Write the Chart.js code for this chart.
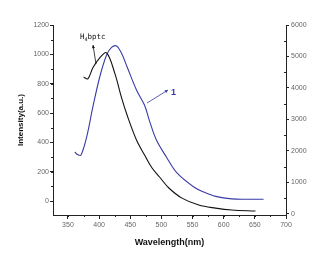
<!DOCTYPE html>
<html>
<head>
<meta charset="utf-8">
<script src="https://cdn.jsdelivr.net/npm/chart.js@4.4.0/dist/chart.umd.min.js"></script>
<style>
  html, body { margin: 0; padding: 0; background: #fff; }
</style>
</head>
<body>
<canvas id="chart" width="327" height="263"></canvas>
<script>
// emission spectra: ligand (left axis) and complex 1 (right axis)
const ligandWl  = [375, 382, 390, 401, 412, 425, 436, 445, 460, 473, 485, 497, 512, 533, 560, 587, 613, 651];
const ligandInt = [846, 833, 908, 976, 1010, 874, 705, 585, 416, 314, 225, 164, 89, 20, -27, -48, -61, -68];

const cplxWl  = [361, 366, 371, 380, 390, 401, 412, 420, 428, 436, 445, 460, 473, 481, 492, 508, 525, 552, 568, 587, 613, 640, 664];
const cplxInt = [1968, 1880, 1873, 2444, 3397, 4349, 5048, 5290, 5333, 5100, 4667, 3937, 3450, 2950, 2349, 1810, 1302, 857, 698, 560, 480, 470, 470];

const xTicks = [350, 400, 450, 500, 550, 600, 650, 700];
const leftTicks = [0, 200, 400, 600, 800, 1000, 1200];
const rightTicks = [0, 1000, 2000, 3000, 4000, 5000, 6000];

const BLUE = "#3a3aa6";
const tickFont = { family: "Liberation Sans", size: 7 };

const toPts = (xs, ys) => xs.map((x, i) => ({ x: x, y: ys[i] }));

// minor ticks + text labels with arrows
const extras = {
  id: "extras",
  afterDraw(chart) {
    const c = chart.ctx, s = chart.scales, a = chart.chartArea;
    c.save();
    c.strokeStyle = "#222";
    c.lineWidth = 1;
    c.beginPath();
    for (let v = 325; v <= 700; v += 25) {
      if (v < s.x.min) continue;
      const px = Math.round(s.x.getPixelForValue(v)) + 0.5;
      c.moveTo(px, a.bottom); c.lineTo(px, a.bottom + 2);
    }
    for (let v = -100; v <= 1200; v += 100) {
      const py = Math.round(s.y.getPixelForValue(v)) + 0.5;
      if (py < a.top - 1 || py > a.bottom) continue;
      c.moveTo(a.left - 2, py); c.lineTo(a.left, py);
    }
    for (let v = 500; v <= 6000; v += 1000) {
      const py = Math.round(s.y2.getPixelForValue(v)) + 0.5;
      c.moveTo(a.right - 2, py); c.lineTo(a.right, py);
    }
    c.stroke();

    // H4bptc label
    c.fillStyle = "#111";
    c.font = "7.5px 'DejaVu Sans Mono'";
    c.textBaseline = "alphabetic";
    c.fillText("H", 80, 39);
    c.font = "5px 'DejaVu Sans Mono'";
    c.fillText("4", 84.5, 41);
    c.font = "7.5px 'DejaVu Sans Mono'";
    c.fillText("bptc", 87.5, 39);
    arrow(c, 96, 64, 93, 45, "#111");

    // complex 1 label
    c.fillStyle = BLUE;
    c.font = "bold 9px 'Liberation Sans'";
    c.fillText("1", 171, 95);
    arrow(c, 147, 103, 168, 90, BLUE);
    c.restore();
  }
};

function arrow(c, x1, y1, x2, y2, col) {
  const ang = Math.atan2(y2 - y1, x2 - x1);
  c.strokeStyle = col; c.fillStyle = col; c.lineWidth = 0.8;
  c.beginPath(); c.moveTo(x1, y1); c.lineTo(x2, y2); c.stroke();
  c.beginPath();
  c.moveTo(x2, y2);
  c.lineTo(x2 - 3.5 * Math.cos(ang - 0.45), y2 - 3.5 * Math.sin(ang - 0.45));
  c.lineTo(x2 - 3.5 * Math.cos(ang + 0.45), y2 - 3.5 * Math.sin(ang + 0.45));
  c.closePath(); c.fill();
}

new Chart(document.getElementById("chart"), {
  type: "scatter",
  data: {
    datasets: [
      { label: "H4bptc", data: toPts(ligandWl, ligandInt), yAxisID: "y",
        showLine: true, borderColor: "#111", borderWidth: 1.1, pointRadius: 0,
        tension: 0.35 },
      { label: "1", data: toPts(cplxWl, cplxInt), yAxisID: "y2",
        showLine: true, borderColor: BLUE, borderWidth: 1.1, pointRadius: 0,
        tension: 0.35 }
    ]
  },
  options: {
    responsive: false,
    animation: false,
    devicePixelRatio: 1,
    layout: { padding: { top: 25, left: 0, right: 0, bottom: 0 } },
    plugins: { legend: { display: false }, tooltip: { enabled: false } },
    scales: {
      x: {
        type: "linear", min: 326, max: 700,
        afterBuildTicks: ax => { ax.ticks = xTicks.map(v => ({ value: v })); },
        afterFit: ax => { ax.height = 48; },
        grid: { drawOnChartArea: false, tickLength: 4, color: "#222" },
        border: { color: "#222", width: 1 },
        ticks: { color: "#666", font: tickFont, padding: 2, maxRotation: 0, callback: v => String(v) },
        title: { display: true, text: "Wavelength(nm)", color: "#111",
                 font: { family: "Liberation Sans", size: 9, weight: "bold" }, padding: { top: 0, bottom: 15 } }
      },
      y: {
        position: "left", min: -95, max: 1200,
        afterBuildTicks: ax => { ax.ticks = leftTicks.map(v => ({ value: v })); },
        afterFit: ax => { ax.width = 53; },
        grid: { drawOnChartArea: false, tickLength: 3, color: "#222" },
        border: { color: "#222", width: 1 },
        ticks: { color: "#666", font: tickFont, padding: 1, callback: v => String(v) },
        title: { display: true, text: "Intensity(a.u.)", color: "#111",
                 font: { family: "Liberation Sans", size: 8, weight: "bold" }, padding: { bottom: 0, top: 16 } }
      },
      y2: {
        position: "right", min: -32, max: 6000,
        afterBuildTicks: ax => { ax.ticks = rightTicks.map(v => ({ value: v })); },
        afterFit: ax => { ax.width = 41; },
        grid: { drawOnChartArea: false, tickLength: 3, color: "#222" },
        border: { color: "#222", width: 1 },
        ticks: { color: "#666", font: tickFont, padding: 2, callback: v => String(v) }
      }
    }
  },
  plugins: [extras]
});
</script>
</body>
</html>
